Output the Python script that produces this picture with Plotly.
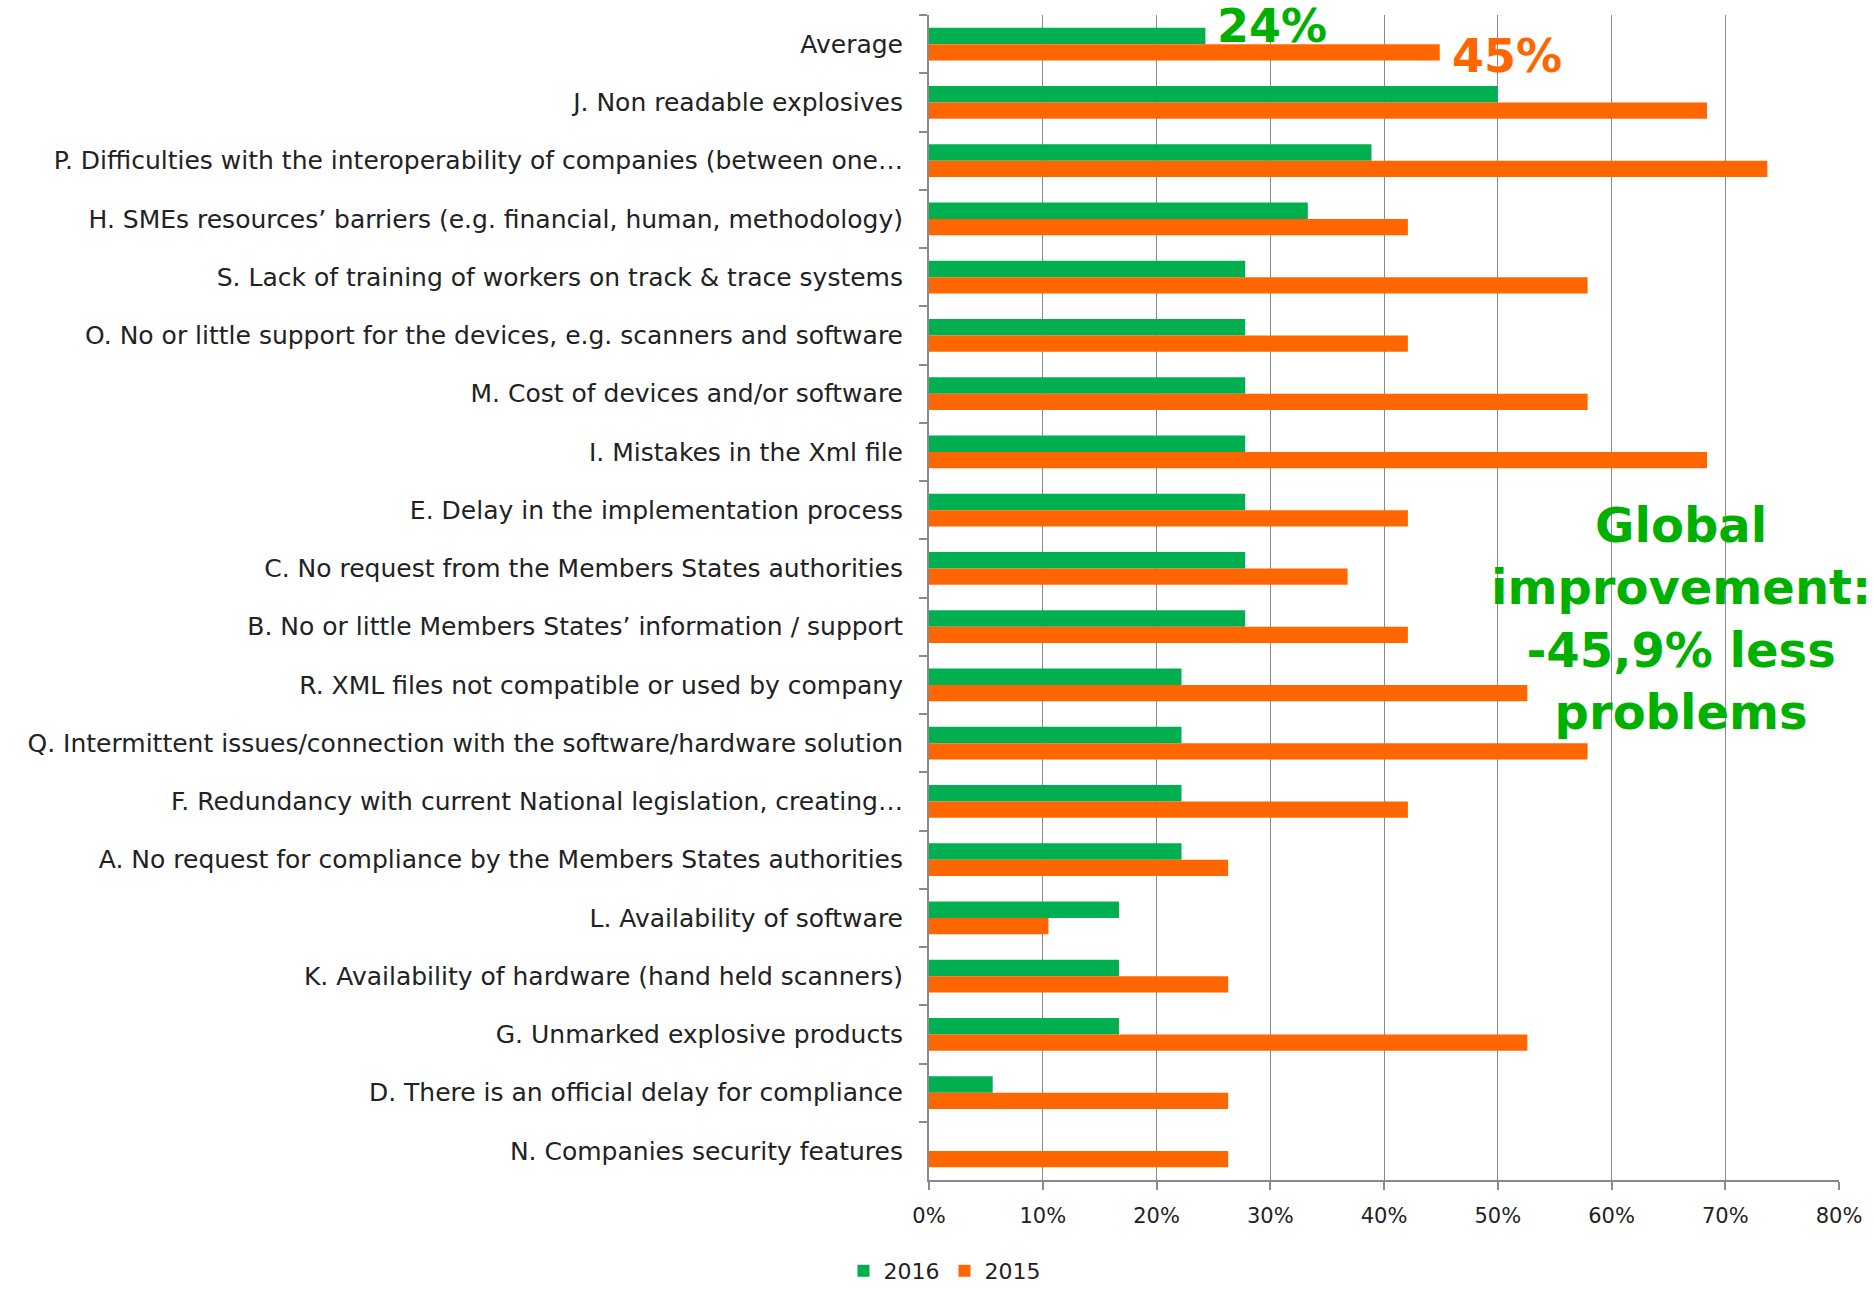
import plotly.graph_objects as go

categories = [
    "Average",
    "J. Non readable explosives",
    "P. Difficulties with the interoperability of companies (between one…",
    "H. SMEs resources’ barriers (e.g. financial, human, methodology)",
    "S. Lack of training of workers on track & trace systems",
    "O. No or little support for the devices, e.g. scanners and software",
    "M. Cost of devices and/or software",
    "I. Mistakes in the Xml file",
    "E. Delay in the implementation process",
    "C. No request from the Members States authorities",
    "B. No or little Members States’ information / support",
    "R. XML files not compatible or used by company",
    "Q. Intermittent issues/connection with the software/hardware solution",
    "F. Redundancy with current National legislation, creating…",
    "A. No request for compliance by the Members States authorities",
    "L. Availability of software",
    "K. Availability of hardware (hand held scanners)",
    "G. Unmarked explosive products",
    "D. There is an official delay for compliance",
    "N. Companies security features",
]
values_2016 = [24.3, 50.0, 38.9, 33.3, 27.8, 27.8, 27.8, 27.8, 27.8, 27.8,
               27.8, 22.2, 22.2, 22.2, 22.2, 16.7, 16.7, 16.7, 5.6, 0.0]
values_2015 = [44.9, 68.4, 73.7, 42.1, 57.9, 42.1, 57.9, 68.4, 42.1, 36.8,
               42.1, 52.6, 57.9, 42.1, 26.3, 10.5, 26.3, 52.6, 26.3, 26.3]
x_ticks = [0, 10, 20, 30, 40, 50, 60, 70, 80]

GREEN = "#00B050"
ORANGE = "#FF6600"
TEXT_GREEN = "#00B000"
FONT = "DejaVu Sans"

fig = go.Figure()
fig.add_trace(go.Bar(y=categories, x=values_2016, orientation="h", name="2016",
                     marker=dict(color=GREEN, line=dict(width=0))))
fig.add_trace(go.Bar(y=categories, x=values_2015, orientation="h", name="2015",
                     marker=dict(color=ORANGE, line=dict(width=0))))

n = len(categories)
fig.update_layout(
    width=1874, height=1289,
    margin=dict(l=929, r=35, t=15, b=109, autoexpand=False),
    paper_bgcolor="white", plot_bgcolor="white",
    barmode="group", bargap=0.44, bargroupgap=0,
    font=dict(family=FONT, size=25, color="#222222"),
    showlegend=True,
    legend=dict(orientation="h", x=0.017, y=-0.078, xanchor="center", yanchor="middle",
                font=dict(size=22), itemwidth=30, traceorder="normal"),
    xaxis=dict(range=[0, 80], autorange=False, tickvals=x_ticks,
               ticktext=[f"{v}%" for v in x_ticks],
               showgrid=True, gridcolor="#8a8a8a", gridwidth=1,
               showline=True, linecolor="#8a8a8a", linewidth=2,
               ticks="outside", ticklen=8, tickcolor="#8a8a8a", tickwidth=2,
               ticklabelstandoff=8, zeroline=False, tickfont=dict(size=21)),
    yaxis=dict(range=[n - 0.5, -0.5], autorange=False, type="category",
               showline=True, linecolor="#8a8a8a", linewidth=2,
               ticks="outside", ticklen=8, tickcolor="#8a8a8a", tickwidth=2,
               tickson="boundaries", showgrid=False,
               ticklabelstandoff=19, tickfont=dict(size=25)),
)

fig.add_annotation(x=values_2016[0], y=categories[0], xref="x", yref="y",
                   text="<b>24%</b>", showarrow=False, xanchor="left", yanchor="middle",
                   xshift=10, yshift=18, font=dict(family="DejaVu Sans", size=46, color=TEXT_GREEN))
fig.add_annotation(x=values_2015[0], y=categories[0], xref="x", yref="y",
                   text="<b>45%</b>", showarrow=False, xanchor="left", yanchor="middle",
                   xshift=10, yshift=-12, font=dict(family="DejaVu Sans", size=46, color=ORANGE))
fig.add_annotation(x=66.1, y=9.86, xref="x", yref="y",
                   text="<b>Global<br>improvement:<br>-45,9% less<br>problems</b>",
                   showarrow=False, xanchor="center", yanchor="middle",
                   font=dict(family="DejaVu Sans", size=48, color=TEXT_GREEN))

fig.write_html("out.html")
